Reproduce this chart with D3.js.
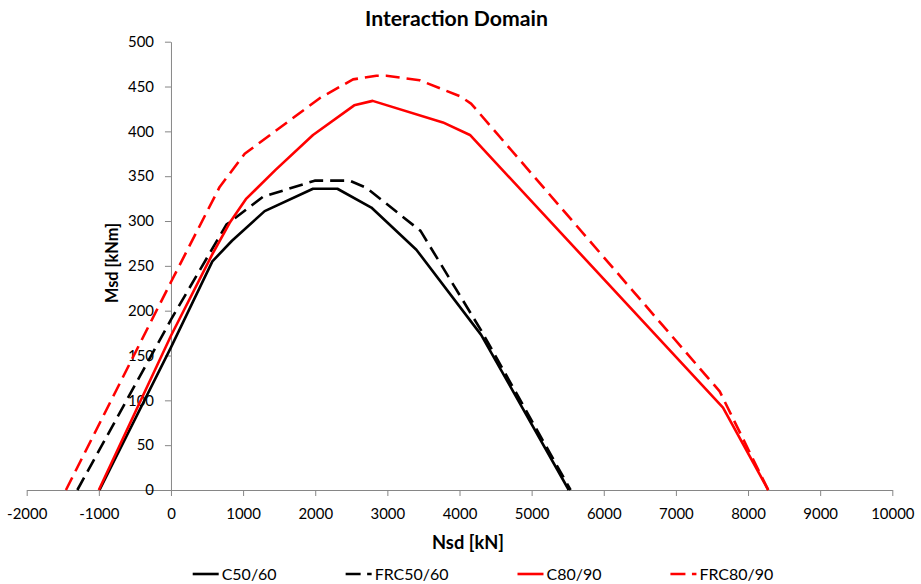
<!DOCTYPE html>
<html><head><meta charset="utf-8">
<script src="https://cdn.jsdelivr.net/npm/d3@7"></script>
<style>body{margin:0;background:#fff}</style>
</head><body>
<svg id="chart" width="921" height="584"></svg>
<script>
// ---- data (N [kN], M [kNm]) ----
const seriesNames = ["C50/60", "FRC50/60", "C80/90", "FRC80/90"];
const c5060 = [[-990,0],[0,159],[574,255],[846,278],[1299,311],[1969,336],[2307,336],[2778,315],[3402,268],[4300,173],[5515,0]];
const frc5060 = [[-1298,0],[0,190],[768,296],[1276,327],[1992,345],[2477,345],[2709,337],[3460,289],[4300,178],[5540,0]];
const c8090 = [[-1000,0],[0,172],[580,264],[814,298],[1045,325],[1450,357],[1969,396],[2540,429],[2796,434],[3770,410],[4145,396],[7653,92],[8280,0]];
const frc8090 = [[-1456,0],[0,232],[675,338],[1022,375],[2062,437],[2524,458],[2848,462],[2986,462],[3448,457],[4010,439],[4160,431],[7607,110],[8280,0]];
const xTickValues = [-2000,-1000,0,1000,2000,3000,4000,5000,6000,7000,8000,9000,10000];
const yTickValues = [0,50,100,150,200,250,300,350,400,450,500];
const titleText = "Interaction Domain";
const xTitle = "Nsd [kN]";
const yTitle = "Msd [kNm]";

const seriesData = [c5060, frc5060, c8090, frc8090];
const seriesColor = ["#000000", "#000000", "#ff0000", "#ff0000"];
const seriesDash = [null, "14,7", null, "14,7"];

const FONT = "Lato, 'Open Sans', sans-serif";
const svg = d3.select("#chart");

const x = d3.scaleLinear().domain([-2000, 10000]).range([26.7, 892.3]);
const y = d3.scaleLinear().domain([0, 500]).range([490, 41.7]);

function fit(sel, target) {
  const w = sel.node().getComputedTextLength();
  const fs = parseFloat(sel.attr("font-size"));
  sel.attr("font-size", fs * target / w);
  return fs * target / w;
}
// measure tick font size
const tmp = svg.append("text").attr("font-family", FONT).attr("font-size", 15).text("1000");
const tickFS = fit(tmp, 34.7);
tmp.remove();

const fmt = d => String(d);

// axes
const xAxis = d3.axisBottom(x).tickValues(xTickValues).tickSize(6).tickSizeOuter(0).tickPadding(12).tickFormat(fmt);
const gx = svg.append("g").attr("transform", `translate(0,${y(0)})`).call(xAxis);
const yAxis = d3.axisLeft(y).tickValues(yTickValues).tickSize(6).tickSizeOuter(0).tickPadding(11).tickFormat(fmt);
const gy = svg.append("g").attr("transform", `translate(${x(0)},0)`).call(yAxis);
[gx, gy].forEach(g => {
  g.selectAll("path.domain").attr("stroke", "#868686").attr("stroke-width", 1);
  g.selectAll(".tick line").attr("stroke", "#868686").attr("stroke-width", 1);
  g.selectAll(".tick text").attr("font-family", FONT).attr("font-size", tickFS).attr("fill", "#000");
});

// series lines
const line = d3.line().x(d => x(d[0])).y(d => y(d[1]));
seriesData.forEach((data, i) => {
  svg.append("path").datum(data)
    .attr("d", line)
    .attr("fill", "none")
    .attr("stroke", seriesColor[i])
    .attr("stroke-width", 2.6)
    .attr("stroke-linejoin", "round")
    .attr("stroke-dasharray", seriesDash[i]);
});

// title
const t = svg.append("text").attr("x", 456.5).attr("y", 26).attr("text-anchor", "middle")
  .attr("font-family", FONT).attr("font-weight", "bold").attr("font-size", 19).attr("fill", "#000").text(titleText);
fit(t, 183);

// axis titles
const xt = svg.append("text").attr("x", 468).attr("y", 549).attr("text-anchor", "middle")
  .attr("font-family", FONT).attr("font-weight", "bold").attr("font-size", 17).attr("fill", "#000").text(xTitle);
fit(xt, 72);
const yt = svg.append("text").attr("transform", "translate(118,263) rotate(-90)").attr("text-anchor", "middle")
  .attr("font-family", FONT).attr("font-weight", "bold").attr("font-size", 17).attr("fill", "#000").text(yTitle);
fit(yt, 80);

// legend
const legendFS = (function(){
  const tt = svg.append("text").attr("font-family", FONT).attr("font-size", 17).text(seriesNames[0]);
  const s = fit(tt, 55); tt.remove(); return s;
})();
let lx = 192.7;
seriesNames.forEach((name, i) => {
  const g = svg.append("g");
  g.append("line").attr("x1", lx).attr("x2", lx + 26).attr("y1", 574).attr("y2", 574)
    .attr("stroke", seriesColor[i]).attr("stroke-width", 2.6)
    .attr("stroke-dasharray", seriesDash[i] ? "15,6.5" : null);
  const tx = g.append("text").attr("x", lx + 29).attr("y", 580)
    .attr("font-family", FONT).attr("font-size", legendFS).attr("fill", "#000").text(name);
  lx += 29 + tx.node().getComputedTextLength() + 69;
});
</script>
</body></html>
